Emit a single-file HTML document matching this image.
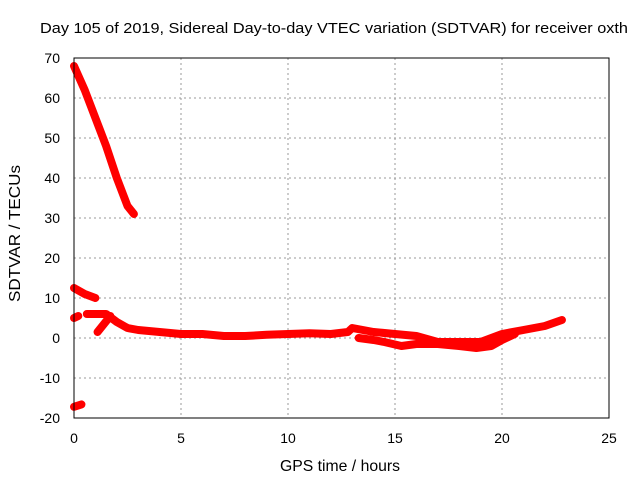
<!DOCTYPE html>
<html><head><meta charset="utf-8">
<style>
body{margin:0;background:#fff;}
svg text{font-family:"Liberation Sans",sans-serif;font-size:14px;fill:#000;}
</style></head>
<body>
<svg id="chart" width="640" height="480" xmlns="http://www.w3.org/2000/svg">
<text x="40" y="33" style="font-size:15px" textLength="588" lengthAdjust="spacingAndGlyphs">Day 105 of 2019, Sidereal Day-to-day VTEC variation (SDTVAR) for receiver oxth</text>
<g id="grid"></g>
<g id="axes"></g>
<g id="series"></g>
<rect x="74" y="58" width="535" height="360" fill="none" stroke="#000" stroke-width="1"/>
<text x="280" y="471" style="font-size:16px" textLength="120" lengthAdjust="spacingAndGlyphs">GPS time / hours</text>
<text transform="translate(20,302) rotate(-90)" style="font-size:16px" textLength="137" lengthAdjust="spacingAndGlyphs">SDTVAR / TECUs</text>
</svg>
<script>
const xTicks=[0,5,10,15,20,25];
const yTicks=[-20,-10,0,10,20,30,40,50,60,70];
const seg1X=[0,0.5,1,1.5,2,2.5,2.8];
const seg1Y=[68,62,55,48,40,33,31];
const seg2X=[0,0.5,1];
const seg2Y=[12.5,11,10];
const seg3X=[0.6,1,1.5,2,2.5,3,4,5,6,7,8,9,10,11,12,12.8,13,14,15,16,17,18,19,20,21,22,22.8];
const seg3Y=[6,6,6,4,2.5,2,1.5,1,1,0.5,0.5,0.8,1,1.2,1,1.5,2.5,1.5,1,0.5,-1,-1,-1,1,2,3,4.5];
const seg4X=[13.3,14,14.5,15.3,16,17,18,18.8,19.5,20,20.6];
const seg4Y=[0,-0.5,-1,-2,-1.5,-1.5,-2,-2.5,-2,-0.5,1];
const seg5X=[1.1,1.4,1.7];
const seg5Y=[1.5,3.5,5.5];
const seg6X=[0,0.2];
const seg6Y=[5,5.5];
const seg7X=[0,0.35];
const seg7Y=[-17.2,-16.6];
const X0=74,X1=609,Y0=418,Y1=58;
const sx=v=>X0+(v-0)/25*(X1-X0);
const sy=v=>Y0-(v+20)/90*(Y0-Y1);
const NS="http://www.w3.org/2000/svg";
const grid=document.getElementById('grid'),axes=document.getElementById('axes'),ser=document.getElementById('series');
function mk(t,a,p){const e=document.createElementNS(NS,t);for(const k in a)e.setAttribute(k,a[k]);p.appendChild(e);return e;}
xTicks.forEach(t=>{
  const x=sx(t);
  if(t>0&&t<25){const l=mk('line',{x1:x,x2:x,y1:Y1,y2:Y0,stroke:'#999','stroke-dasharray':'2,3'},grid);
  
  }
  const tx=mk('text',{x:x,y:443,'text-anchor':'middle'},axes);tx.textContent=t;
  
  
});
yTicks.forEach(t=>{
  const y=sy(t);
  if(t>-20&&t<70){const l=mk('line',{x1:X0,x2:X1,y1:y,y2:y,stroke:'#999','stroke-dasharray':'2,3'},grid);
  
  }
  const tx=mk('text',{x:60,y:y+5,'text-anchor':'end'},axes);tx.textContent=t;
  
  
});
const segs=[[seg1X,seg1Y,'sdtvar-segment-1'],[seg2X,seg2Y,'sdtvar-segment-2'],[seg3X,seg3Y,'sdtvar-segment-3'],[seg4X,seg4Y,'sdtvar-segment-4'],[seg5X,seg5Y,'sdtvar-segment-5'],[seg6X,seg6Y,'sdtvar-segment-6'],[seg7X,seg7Y,'sdtvar-segment-7']];
segs.forEach(([xs,ys,n])=>{
  const pts=xs.map((v,i)=>sx(v)+','+sy(ys[i])).join(' ');
  const p=mk('polyline',{points:pts,fill:'none',stroke:'#f00','stroke-width':8,'stroke-linejoin':'round','stroke-linecap':'round'},ser);
  
  
});
</script>
</body></html>
